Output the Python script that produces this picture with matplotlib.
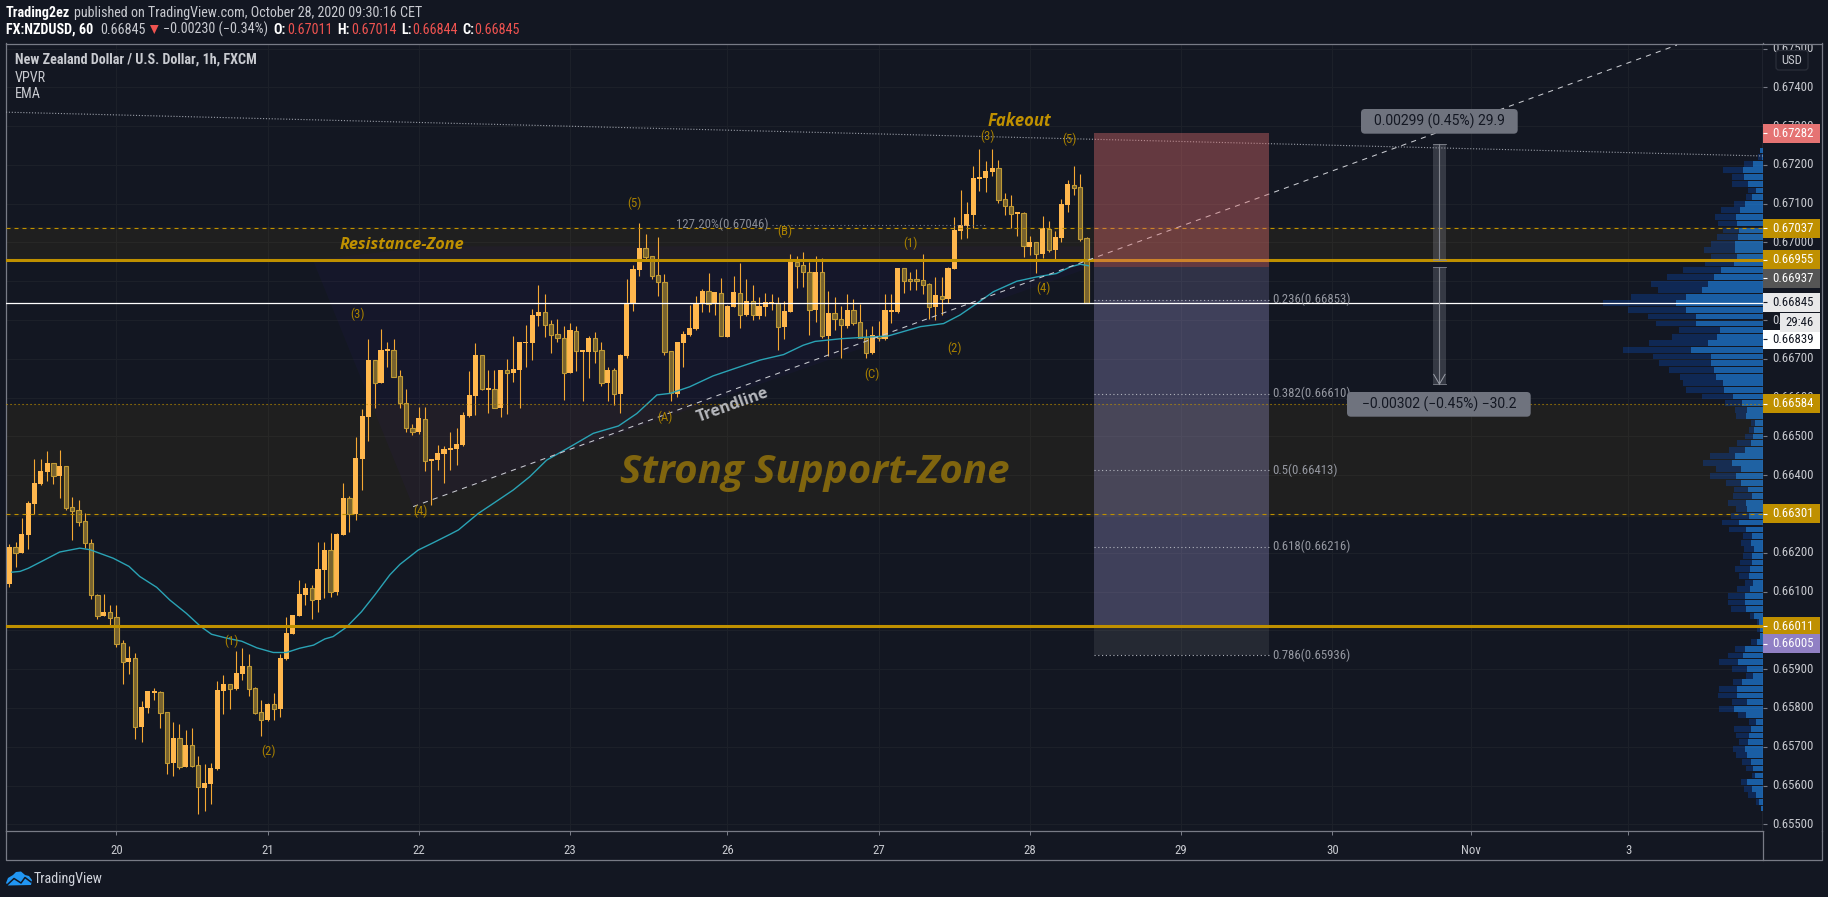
# -*- coding: utf-8 -*-
import matplotlib

matplotlib.use("Agg")
import matplotlib.patches as patches
import matplotlib.pyplot as plt

# Hourly NZD/USD candles.
bar_open = [
    0.66120, 0.66214, 0.66200, 0.66246, 0.66326, 0.66377, 0.66408, 0.66431, 0.66398, 0.66424,
    0.66317, 0.66310, 0.66281, 0.66225, 0.66090, 0.66037, 0.66047, 0.66034, 0.65967, 0.65919,
    0.65928, 0.65751, 0.65800, 0.65839, 0.65840, 0.65789, 0.65658, 0.65722, 0.65648, 0.65704,
    0.65652, 0.65594, 0.65604, 0.65643, 0.65844, 0.65861, 0.65849, 0.65888, 0.65907, 0.65851,
    0.65789, 0.65768, 0.65809, 0.65797, 0.65926, 0.65991, 0.66037, 0.66091, 0.66108, 0.66078,
    0.66156, 0.66206, 0.66099, 0.66246, 0.66341, 0.66300, 0.66442, 0.66550, 0.66697, 0.66638,
    0.66720, 0.66724, 0.66655, 0.66587, 0.66523, 0.66511, 0.66546, 0.66436, 0.66439, 0.66454,
    0.66465, 0.66467, 0.66478, 0.66552, 0.66604, 0.66709, 0.66619, 0.66621, 0.66573, 0.66670,
    0.66663, 0.66671, 0.66741, 0.66741, 0.66810, 0.66820, 0.66789, 0.66763, 0.66755, 0.66663,
    0.66773, 0.66717, 0.66717, 0.66753, 0.66722, 0.66637, 0.66670, 0.66609, 0.66707, 0.66841,
    0.66929, 0.66985, 0.66964, 0.66915, 0.66897, 0.66719, 0.66609, 0.66741, 0.66761, 0.66777,
    0.66841, 0.66874, 0.66841, 0.66871, 0.66756, 0.66833, 0.66871, 0.66813, 0.66848, 0.66810,
    0.66834, 0.66841, 0.66843, 0.66783, 0.66820, 0.66949, 0.66941, 0.66923, 0.66826, 0.66923,
    0.66759, 0.66817, 0.66804, 0.66784, 0.66825, 0.66794, 0.66755, 0.66714, 0.66760, 0.66751,
    0.66820, 0.66820, 0.66933, 0.66906, 0.66906, 0.66902, 0.66892, 0.66833, 0.66863, 0.66854,
    0.66931, 0.67029, 0.67042, 0.67071, 0.67163, 0.67166, 0.67181, 0.67191, 0.67111, 0.67095,
    0.67073, 0.67077, 0.66988, 0.67000, 0.66970, 0.67036, 0.66980, 0.67011, 0.67096, 0.67149,
    0.67142, 0.67011,
]
bar_high = [
    0.66223, 0.66228, 0.66290, 0.66334, 0.66442, 0.66442, 0.66463, 0.66431, 0.66465, 0.66424,
    0.66344, 0.66336, 0.66302, 0.66235, 0.66094, 0.66094, 0.66066, 0.66066, 0.65975, 0.65960,
    0.65942, 0.65818, 0.65844, 0.65852, 0.65844, 0.65789, 0.65764, 0.65759, 0.65743, 0.65748,
    0.65676, 0.65656, 0.65658, 0.65870, 0.65885, 0.65862, 0.65947, 0.65955, 0.65939, 0.65854,
    0.65821, 0.65813, 0.65839, 0.65939, 0.66035, 0.66040, 0.66130, 0.66122, 0.66117, 0.66228,
    0.66228, 0.66251, 0.66251, 0.66380, 0.66347, 0.66499, 0.66571, 0.66751, 0.66697, 0.66777,
    0.66743, 0.66751, 0.66671, 0.66622, 0.66533, 0.66576, 0.66576, 0.66442, 0.66478, 0.66475,
    0.66511, 0.66521, 0.66563, 0.66668, 0.66741, 0.66710, 0.66671, 0.66671, 0.66671, 0.66699,
    0.66759, 0.66743, 0.66787, 0.66828, 0.66890, 0.66867, 0.66800, 0.66802, 0.66784, 0.66792,
    0.66784, 0.66723, 0.66759, 0.66769, 0.66743, 0.66679, 0.66676, 0.66712, 0.66906, 0.66942,
    0.67050, 0.67022, 0.66964, 0.67014, 0.66918, 0.66719, 0.66743, 0.66772, 0.66839, 0.66862,
    0.66880, 0.66921, 0.66872, 0.66908, 0.66839, 0.66913, 0.66947, 0.66906, 0.66890, 0.66859,
    0.66869, 0.66867, 0.66859, 0.66849, 0.66970, 0.66965, 0.66975, 0.66949, 0.66965, 0.66960,
    0.66875, 0.66859, 0.66836, 0.66867, 0.66854, 0.66841, 0.66777, 0.66784, 0.66797, 0.66867,
    0.66867, 0.66934, 0.66933, 0.66924, 0.66931, 0.66970, 0.66895, 0.66911, 0.66911, 0.66936,
    0.67065, 0.67135, 0.67104, 0.67197, 0.67241, 0.67210, 0.67241, 0.67212, 0.67127, 0.67122,
    0.67078, 0.67078, 0.67016, 0.67001, 0.67068, 0.67055, 0.67029, 0.67112, 0.67161, 0.67197,
    0.67176, 0.67014,
]
bar_low = [
    0.66112, 0.66164, 0.66200, 0.66210, 0.66300, 0.66375, 0.66385, 0.66377, 0.66341, 0.66310,
    0.66233, 0.66269, 0.66212, 0.66081, 0.66029, 0.66037, 0.66014, 0.65958, 0.65862, 0.65888,
    0.65720, 0.65712, 0.65787, 0.65821, 0.65748, 0.65630, 0.65625, 0.65643, 0.65648, 0.65648,
    0.65527, 0.65534, 0.65553, 0.65640, 0.65785, 0.65797, 0.65846, 0.65872, 0.65831, 0.65785,
    0.65728, 0.65766, 0.65769, 0.65777, 0.65924, 0.65991, 0.66037, 0.66066, 0.66029, 0.66047,
    0.66084, 0.66086, 0.66091, 0.66246, 0.66254, 0.66285, 0.66362, 0.66488, 0.66573, 0.66638,
    0.66679, 0.66654, 0.66573, 0.66511, 0.66503, 0.66506, 0.66411, 0.66323, 0.66413, 0.66380,
    0.66413, 0.66426, 0.66475, 0.66550, 0.66555, 0.66619, 0.66560, 0.66573, 0.66550, 0.66558,
    0.66640, 0.66573, 0.66679, 0.66697, 0.66784, 0.66756, 0.66715, 0.66743, 0.66594, 0.66663,
    0.66668, 0.66591, 0.66650, 0.66689, 0.66630, 0.66591, 0.66581, 0.66560, 0.66702, 0.66823,
    0.66913, 0.66952, 0.66906, 0.66862, 0.66710, 0.66591, 0.66601, 0.66679, 0.66759, 0.66774,
    0.66820, 0.66820, 0.66813, 0.66758, 0.66756, 0.66833, 0.66779, 0.66810, 0.66800, 0.66802,
    0.66810, 0.66826, 0.66723, 0.66751, 0.66820, 0.66882, 0.66885, 0.66761, 0.66795, 0.66753,
    0.66707, 0.66774, 0.66702, 0.66779, 0.66787, 0.66753, 0.66702, 0.66712, 0.66746, 0.66748,
    0.66792, 0.66818, 0.66869, 0.66877, 0.66877, 0.66867, 0.66802, 0.66800, 0.66813, 0.66844,
    0.66931, 0.67009, 0.67011, 0.67037, 0.67132, 0.67130, 0.67171, 0.67101, 0.67071, 0.67037,
    0.67016, 0.66962, 0.66967, 0.66921, 0.66960, 0.66975, 0.66955, 0.67001, 0.67078, 0.67122,
    0.67004, 0.66844,
]
bar_close = [
    0.66215, 0.66200, 0.66249, 0.66328, 0.66380, 0.66411, 0.66432, 0.66399, 0.66424, 0.66316,
    0.66309, 0.66280, 0.66224, 0.66090, 0.66038, 0.66047, 0.66033, 0.65966, 0.65919, 0.65929,
    0.65752, 0.65803, 0.65844, 0.65844, 0.65788, 0.65659, 0.65723, 0.65649, 0.65705, 0.65651,
    0.65595, 0.65607, 0.65645, 0.65846, 0.65862, 0.65850, 0.65890, 0.65908, 0.65850, 0.65787,
    0.65770, 0.65810, 0.65798, 0.65929, 0.65993, 0.66040, 0.66094, 0.66109, 0.66079, 0.66158,
    0.66207, 0.66100, 0.66249, 0.66341, 0.66301, 0.66444, 0.66553, 0.66697, 0.66638, 0.66723,
    0.66725, 0.66654, 0.66586, 0.66522, 0.66512, 0.66547, 0.66437, 0.66442, 0.66457, 0.66467,
    0.66470, 0.66480, 0.66555, 0.66607, 0.66710, 0.66622, 0.66625, 0.66574, 0.66671, 0.66664,
    0.66674, 0.66743, 0.66743, 0.66813, 0.66820, 0.66788, 0.66762, 0.66754, 0.66664, 0.66774,
    0.66721, 0.66723, 0.66753, 0.66721, 0.66637, 0.66671, 0.66610, 0.66710, 0.66844, 0.66931,
    0.66985, 0.66963, 0.66914, 0.66897, 0.66718, 0.66611, 0.66743, 0.66764, 0.66779, 0.66844,
    0.66875, 0.66841, 0.66872, 0.66758, 0.66836, 0.66872, 0.66814, 0.66849, 0.66812, 0.66836,
    0.66846, 0.66846, 0.66783, 0.66823, 0.66949, 0.66940, 0.66923, 0.66827, 0.66924, 0.66759,
    0.66818, 0.66803, 0.66786, 0.66826, 0.66793, 0.66755, 0.66716, 0.66761, 0.66753, 0.66826,
    0.66826, 0.66934, 0.66901, 0.66900, 0.66900, 0.66891, 0.66834, 0.66864, 0.66855, 0.66934,
    0.67032, 0.67045, 0.67073, 0.67166, 0.67169, 0.67184, 0.67192, 0.67110, 0.67095, 0.67074,
    0.67078, 0.66990, 0.67001, 0.66971, 0.67037, 0.66981, 0.67014, 0.67099, 0.67150, 0.67141,
    0.67010, 0.66845,
]

# EMA readings (bar position, price).
ema_bars = [
    0.4, 1.7, 3, 5.4, 8, 11.2, 12.8, 16.5, 19, 20.7, 23.4, 25.5, 28.1, 30.3, 32.1, 34.5, 36.9,
    39.3, 41.9, 44, 46.1, 48.3, 50.1, 51.4, 53.5, 55.9, 58, 60.4, 62, 64.9, 67.3, 70, 71.3, 74.4,
    76.8, 80, 82.6, 85.3, 89, 92.7, 96.7, 99.6, 102.8, 104.9, 108, 111.7, 115.5, 119.2, 122.9,
    126, 127.9, 132.1, 136.1, 139.5, 144.6, 148.3, 150.9, 153.6, 156.2, 159.9, 163, 166.2,
    168.4, 170, 171.3,
]
ema_prices = [
    0.66150, 0.66152, 0.66160, 0.66180, 0.66202, 0.66212, 0.66208, 0.66186, 0.66165, 0.66139,
    0.66111, 0.66078, 0.66044, 0.66011, 0.65990, 0.65980, 0.65972, 0.65955, 0.65943, 0.65943,
    0.65954, 0.65962, 0.65978, 0.65984, 0.66008, 0.66048, 0.66091, 0.66143, 0.66170, 0.66207,
    0.66226, 0.66248, 0.66259, 0.66301, 0.66327, 0.66362, 0.66396, 0.66439, 0.66473, 0.66508,
    0.66527, 0.66559, 0.66607, 0.66611, 0.66628, 0.66656, 0.66677, 0.66697, 0.66711, 0.66735,
    0.66745, 0.66752, 0.66756, 0.66759, 0.66783, 0.66791, 0.66813, 0.66843, 0.66873, 0.66900,
    0.66911, 0.66920, 0.66937, 0.66944, 0.66940,
]

# Volume profile rows, widths in volume units, right anchored.
vp_prices = [
    0.67237, 0.67220, 0.67203, 0.67186, 0.67168, 0.67151, 0.67134, 0.67117, 0.67100, 0.67083,
    0.67066, 0.67049, 0.67031, 0.67014, 0.66997, 0.66980, 0.66963, 0.66946, 0.66929, 0.66911,
    0.66894, 0.66877, 0.66860, 0.66843, 0.66826, 0.66809, 0.66791, 0.66774, 0.66757, 0.66740,
    0.66723, 0.66706, 0.66689, 0.66672, 0.66654, 0.66637, 0.66620, 0.66603, 0.66586, 0.66569,
    0.66552, 0.66534, 0.66517, 0.66500, 0.66483, 0.66466, 0.66449, 0.66432, 0.66415, 0.66397,
    0.66380, 0.66363, 0.66346, 0.66329, 0.66312, 0.66295, 0.66278, 0.66260, 0.66243, 0.66226,
    0.66209, 0.66192, 0.66175, 0.66158, 0.66140, 0.66123, 0.66106, 0.66089, 0.66072, 0.66055,
    0.66038, 0.66021, 0.66003, 0.65986, 0.65969, 0.65952, 0.65935, 0.65918, 0.65901, 0.65883,
    0.65866, 0.65849, 0.65832, 0.65815, 0.65798, 0.65781, 0.65764, 0.65746, 0.65729, 0.65712,
    0.65695, 0.65678, 0.65661, 0.65644, 0.65626, 0.65609, 0.65592, 0.65575, 0.65558, 0.65541,
]
vp_up = [
    10, 5, 31, 61, 58, 46, 22, 34, 55, 70, 82, 79, 73, 76, 85, 85, 79, 88, 127, 148,
    166, 184, 232, 262, 232, 202, 202, 130, 139, 166, 217, 157, 157, 148, 142, 121, 118, 91, 64, 49,
    52, 25, 28, 31, 37, 55, 85, 94, 67, 82, 67, 46, 34, 52, 49, 43, 73, 52, 34, 37,
    28, 34, 34, 40, 43, 31, 40, 55, 55, 52, 28, 13, 10, 10, 19, 55, 61, 76, 49, 31,
    64, 79, 79, 49, 88, 52, 22, 37, 43, 46, 55, 49, 37, 31, 25, 49, 34, 22, 13, 7,
]
vp_total = [
    10, 16, 58, 121, 94, 94, 46, 52, 88, 127, 145, 136, 121, 139, 157, 178, 157, 175, 241, 289,
    337, 316, 397, 481, 406, 346, 322, 253, 274, 343, 421, 331, 313, 283, 250, 241, 232, 184, 115, 85,
    82, 37, 43, 55, 79, 103, 160, 181, 142, 160, 112, 88, 91, 106, 82, 97, 124, 103, 61, 67,
    58, 61, 70, 85, 73, 55, 79, 106, 106, 97, 40, 19, 19, 10, 37, 85, 106, 133, 94, 52,
    91, 133, 136, 94, 133, 76, 43, 88, 82, 73, 91, 82, 64, 52, 34, 67, 58, 46, 22, 7,
]

price_ticks = [
    0.655, 0.656, 0.657, 0.658, 0.659, 0.660, 0.661, 0.662, 0.663, 0.664, 0.665,
    0.666, 0.667, 0.668, 0.669, 0.670, 0.671, 0.672, 0.673, 0.674, 0.675,
]
time_ticks = [17, 41, 65, 89, 114, 138, 162, 186, 210, 232, 257]
time_labels = ["20", "21", "22", "23", "26", "27", "28", "29", "30", "Nov", "3"]

wave_labels = ["(1)", "(2)", "(3)", "(4)", "(5)", "(A)", "(B)", "(C)", "(1)", "(2)", "(3)", "(4)", "(5)"]
wave_bars = [35.2, 41.2, 55.2, 65.2, 99.2, 104.1, 123.1, 137, 143.1, 150.1, 155.2, 164.1, 168.2]
wave_prices = [0.65971, 0.65687, 0.66816, 0.66306, 0.67102, 0.66550, 0.67030, 0.66660, 0.66999, 0.66728, 0.67275, 0.66883, 0.67265]

fib_levels = [0.66853, 0.66610, 0.66413, 0.66216, 0.65936]
fib_labels = ["0.236(0.66853)", "0.382(0.66610)", "0.5(0.66413)", "0.618(0.66216)", "0.786(0.65936)"]

# Scale badges; the axis pushes close ones apart so scale_shown is where each one sits.
scale_labels = ["0.67282", "0.67037", "0.66955", "0.66937", "0.66845", "0.66839", "0.66584", "0.66301", "0.66011", "0.66005"]
scale_shown = [0.67282, 0.67037, 0.66955, 0.66908, 0.66846, 0.66750, 0.66584, 0.66301, 0.66011, 0.65965]
scale_faces = ["#e57373", "#bf9000", "#bf9000", "#555555", "#e9e9ea", "#ffffff", "#bf9000", "#bf9000", "#bf9000", "#9080c4"]
scale_texts = ["white", "white", "white", "white", "#131722", "#131722", "white", "white", "white", "white"]

BG = "#131722"
GRID = "#1c2029"
FRAME = "#787b86"
GOLD = "#bf9000"
TEXT = "#c8cad0"
W, H = 1828, 897


def px_to_fig(x0, y0, x1, y1):
    return [x0 / W, 1 - y1 / H, (x1 - x0) / W, (y1 - y0) / H]


plt.rcParams["font.family"] = ["Roboto Condensed", "DejaVu Sans"]
fig = plt.figure(figsize=(W / 100, H / 100), dpi=100, facecolor=BG)

ylim = (0.65482, 0.67513)
ax = fig.add_axes(px_to_fig(6, 43.5, 1763.3, 831.3), facecolor=BG)
ax.set_xlim(-0.52, 278.41)
ax.set_ylim(*ylim)

# Grid
ax.set_yticks(price_ticks)
ax.set_yticklabels([])
ax.set_xticks(time_ticks)
ax.set_xticklabels(time_labels, fontsize=9.2, color=TEXT)
ax.tick_params(axis="y", length=0)
ax.tick_params(axis="x", length=3, color=FRAME, width=0.72, pad=6)
ax.grid(True, color=GRID, linewidth=0.8, zorder=0)
ax.set_axisbelow(True)
for spine in ax.spines.values():
    spine.set_color(FRAME)
    spine.set_linewidth(0.9)

# Zones
ax.axhspan(0.66955, 0.67040, facecolor=GOLD, alpha=0.07, linewidth=0, zorder=1)
ax.axhspan(0.66293, 0.66584, facecolor=GOLD, alpha=0.07, linewidth=0, zorder=1)

# Faint wave wedge
ax.add_patch(
    patches.Polygon(
        [(48.2, 0.66955), (64.1, 0.66319), (171.8, 0.66937), (171.8, 0.66990), (67.3, 0.66990)],
        facecolor=(0.33, 0.09, 0.92, 0.045),
        linewidth=0,
        zorder=2,
    )
)

# Volume profile, 18.9 volume units are one bar of width.
x_right = 278.41
up_w = [v / 18.9 for v in vp_up]
total_w = [v / 18.9 for v in vp_total]
ax.barh(vp_prices, up_w, left=[x_right - w for w in up_w], height=0.00015, color="#1f8ffc", alpha=0.6, linewidth=0, zorder=3)
ax.barh(
    vp_prices,
    [t - u for t, u in zip(total_w, up_w)],
    left=[x_right - t for t in total_w],
    height=0.00015,
    color="#0650cb",
    alpha=0.3,
    linewidth=0,
    zorder=3,
)

# Blue (target) side of the position box and fib bands
box_left, box_right = 172.1, 200.0
ax.fill_between([box_left, box_right], 0.66853, 0.66937, color=(0.66, 0.63, 0.87), alpha=0.2, linewidth=0, zorder=3.5)
ax.fill_between([box_left, box_right], 0.66011, 0.66853, color=(0.66, 0.63, 0.87), alpha=0.3, linewidth=0, zorder=3.5)
ax.fill_between([box_left, box_right], 0.65936, 0.66011, color="white", alpha=0.08, linewidth=0, zorder=3.5)

# Candles
bars = list(range(len(bar_open)))
ax.vlines(bars, bar_low, bar_high, color="#f5a833", linewidth=0.8, zorder=4)
up_bars = [i for i in bars if bar_close[i] >= bar_open[i]]
down_bars = [i for i in bars if bar_close[i] < bar_open[i]]
ax.bar(
    up_bars,
    [bar_close[i] - bar_open[i] for i in up_bars],
    bottom=[bar_open[i] for i in up_bars],
    width=0.8,
    color="#ffb74d",
    linewidth=0,
    zorder=5,
)
ax.bar(
    down_bars,
    [bar_close[i] - bar_open[i] for i in down_bars],
    bottom=[bar_open[i] for i in down_bars],
    width=0.68,
    facecolor="#77622f",
    edgecolor="#bf9a35",
    linewidth=0.8,
    zorder=5,
)

# EMA
ax.plot(ema_bars, ema_prices, color="#2aa3b5", linewidth=1.0, zorder=6)

# Levels
ax.axhline(0.67037, color=GOLD, linewidth=0.8, linestyle=(0, (3.6, 3.6)), zorder=6)
ax.axhline(0.66955, color=GOLD, linewidth=2.2, zorder=6)
ax.axhline(0.66584, color=GOLD, linewidth=0.8, linestyle=(0, (1, 2.6)), zorder=6)
ax.axhline(0.66301, color=GOLD, linewidth=0.8, linestyle=(0, (3.6, 3.6)), zorder=6)
ax.axhline(0.66011, color=GOLD, linewidth=2.2, zorder=6)
ax.axhline(0.66845, color="white", linewidth=0.9, zorder=6.5)

# Trend lines
ax.plot([-0.52, 278.41], [0.67336, 0.67223], color="#9a9ea8", linewidth=0.8, linestyle=(0, (1, 1.6)), zorder=6)
ax.plot([64.1, 264.7], [0.66319, 0.67509], color="#c9cbd1", linewidth=0.75, linestyle=(0, (5, 5)), zorder=6.6)

# Red (stop) side of the position box
ax.fill_between([box_left, box_right], 0.66937, 0.67282, color=(0.88, 0.43, 0.43), alpha=0.4, linewidth=0, zorder=7)

# Fib retracement
for level, label in zip(fib_levels, fib_labels):
    ax.plot([box_left, box_right], [level, level], color="#b2b5be", linewidth=0.8, linestyle=(0, (1, 2.4)), zorder=7.5)
    ax.text(200.5, level, label, color="#9598a1", fontsize=9.2, ha="left", va="center", zorder=9)
ax.plot([121, 155.2], [0.67046, 0.67046], color="#787b86", linewidth=0.8, linestyle=(0, (1, 2.4)), zorder=7.5)
ax.text(120.5, 0.67046, "127.20%(0.67046)", color="#8a8d96", fontsize=9.2, ha="right", va="center", zorder=9)

# Measure tool
for low, high in [(0.66955, 0.67254), (0.66635, 0.66937)]:
    ax.fill_between([226, 228], low, high, color="#b2b5be", alpha=0.22, linewidth=0, zorder=7.2)
    ax.plot([227, 227], [low, high], color="#83868f", linewidth=0.8, zorder=7.3)
    ax.plot([226, 228], [high, high], color="#83868f", linewidth=0.6, zorder=7.3)
    ax.plot([226, 228], [low, low], color="#83868f", linewidth=0.6, zorder=7.3)
ax.plot([226.1, 227, 227.9], [0.66660, 0.66635, 0.66660], color="#9a9ea8", linewidth=0.7, zorder=7.4)

# Wave labels and captions
for label, b, p in zip(wave_labels, wave_bars, wave_prices):
    ax.text(b, p, label, color="#a88000", fontsize=9.2, ha="center", va="center", zorder=9)
ax.text(52.5, 0.66994, "Resistance-Zone", color=GOLD, fontsize=11.7, fontweight="bold", fontstyle="italic", family="Open Sans", ha="left", va="center", zorder=9)
ax.text(160.3, 0.67291, "Fakeout", color=GOLD, fontsize=12, fontweight="bold", fontstyle="italic", family="Open Sans", ha="center", va="bottom", zorder=9)
ax.text(97, 0.66406, "Strong Support-Zone", color="#80650e", fontsize=29, fontweight="bold", fontstyle="italic", family="Open Sans", ha="left", va="center", zorder=9)
ax.text(114.9, 0.66580, "Trendline", color="#b6b8bd", fontsize=11.5, fontweight="bold", family="Open Sans", rotation=20, ha="center", va="center", zorder=9)

# Price scale
scale = fig.add_axes(px_to_fig(1763.3, 43.5, 1821.7, 831.3), facecolor=BG)
scale.set_xlim(0, 58.4)
scale.set_ylim(*ylim)
scale.set_xticks([])
scale.set_yticks([])
for name, spine in scale.spines.items():
    spine.set_color(FRAME)
    spine.set_linewidth(0.9)
    spine.set_visible(name in ("top", "right"))
for p in price_ticks:
    scale.plot([0, 4], [p, p], color=FRAME, linewidth=0.8, solid_capstyle="butt")
    scale.text(8.5, p, "%.5f" % p, color=TEXT, fontsize=9.2, va="center", ha="left", zorder=2, clip_on=True)
row_h = 0.00049
for label, value, face, txt in zip(scale_labels, scale_shown, scale_faces, scale_texts):
    scale.add_patch(patches.Rectangle((0, value - row_h / 2), 56.7, row_h, facecolor=face, linewidth=0, zorder=3))
    scale.plot([0, 4], [value, value], color=txt, linewidth=0.8, solid_capstyle="butt", zorder=4)
    scale.text(8.5, value, label, color=txt, fontsize=9.2, va="center", ha="left", zorder=5)

# Overlay in pixel coordinates for page furniture
chrome = fig.add_axes([0, 0, 1, 1], facecolor="none")
chrome.set_xlim(0, W)
chrome.set_ylim(H, 0)
chrome.axis("off")

# Countdown and currency button
chrome.add_patch(patches.Rectangle((1780, 313), 40, 19, facecolor="#e9e9ea", linewidth=0, zorder=5))
chrome.text(1800, 322.5, "29:46", color="#131722", fontsize=9.2, ha="center", va="center", zorder=6)
chrome.add_patch(
    patches.FancyBboxPatch(
        (1778, 52.5), 28, 15.5, boxstyle="round,pad=2,rounding_size=3",
        facecolor=BG, edgecolor="#2a2e39", linewidth=0.9, zorder=5,
    )
)
chrome.text(1792, 60, "USD", color=TEXT, fontsize=9.2, ha="center", va="center", zorder=6)

# Outer frame of the bottom strip
chrome.plot([6, 6, 1821.7, 1821.7], [831, 860.3, 860.3, 831], color=FRAME, linewidth=0.9)
chrome.plot([1763.3, 1763.3], [831, 860.3], color=FRAME, linewidth=0.9)

# Header
chrome.text(6, 12.5, "Trading2ez", color="white", fontsize=10.2, fontweight="bold", va="center")
chrome.text(74.3, 12.5, "published on TradingView.com, October 28, 2020 09:30:16 CET", color=TEXT, fontsize=10.2, va="center")
chrome.text(6, 29.5, "FX:NZDUSD, 60", color="white", fontsize=10.2, fontweight="bold", va="center")
chrome.text(100, 29.5, "0.66845", color=TEXT, fontsize=10.2, va="center")
chrome.add_patch(patches.Polygon([(150, 25), (158.6, 25), (154.3, 34)], facecolor="#ef5350", linewidth=0))
chrome.text(163.3, 29.5, "\u22120.00230 (\u22120.34%)", color=TEXT, fontsize=10.2, va="center")
for x_key, key, x_val, val in [
    (273, "O:", 287, "0.67011"),
    (337, "H:", 351, "0.67014"),
    (401, "L:", 412, "0.66844"),
    (462, "C:", 474, "0.66845"),
]:
    chrome.text(x_key, 29.5, key, color="white", fontsize=10.2, fontweight="bold", va="center")
    chrome.text(x_val, 29.5, val, color="#ef5350", fontsize=10.2, va="center")

# Pane legend
chrome.text(15, 60, "New Zealand Dollar / U.S. Dollar, 1h, FXCM", color=TEXT, fontsize=10.2, fontweight="bold", va="center")
chrome.text(15, 77.5, "VPVR", color=TEXT, fontsize=10.2, va="center")
chrome.text(15, 94.5, "EMA", color=TEXT, fontsize=10.2, va="center")

# Measure captions
for x0, x1, y0, y1, caption in [
    (1361, 1517.7, 109, 133.7, "0.00299 (0.45%) 29.9"),
    (1347, 1530.7, 392, 416.7, "\u22120.00302 (\u22120.45%) \u221230.2"),
]:
    chrome.add_patch(
        patches.FancyBboxPatch(
            (x0 + 3, y0 + 3), x1 - x0 - 6, y1 - y0 - 6, boxstyle="round,pad=3,rounding_size=4",
            facecolor="#6f737e", linewidth=0, zorder=5,
        )
    )
    chrome.text((x0 + x1) / 2, (y0 + y1) / 2, caption, color="#131722", fontsize=10, family="Roboto", ha="center", va="center", zorder=6)

# TradingView logo
chrome.add_patch(
    patches.Polygon(
        [(6, 883), (8, 878), (13, 875), (16, 872), (21, 871.5), (25, 875), (29, 876), (32, 880), (31, 885), (8, 885.5)],
        facecolor="#2196f3",
        linewidth=0,
    )
)
chrome.plot([7, 14, 21, 25, 31], [885, 878.5, 883, 877.5, 882], color=BG, linewidth=1.1)
chrome.text(34, 879, "TradingView", color="#d1d4dc", fontsize=10.2, va="center")

fig.savefig("out.png", dpi=100, facecolor=BG)
